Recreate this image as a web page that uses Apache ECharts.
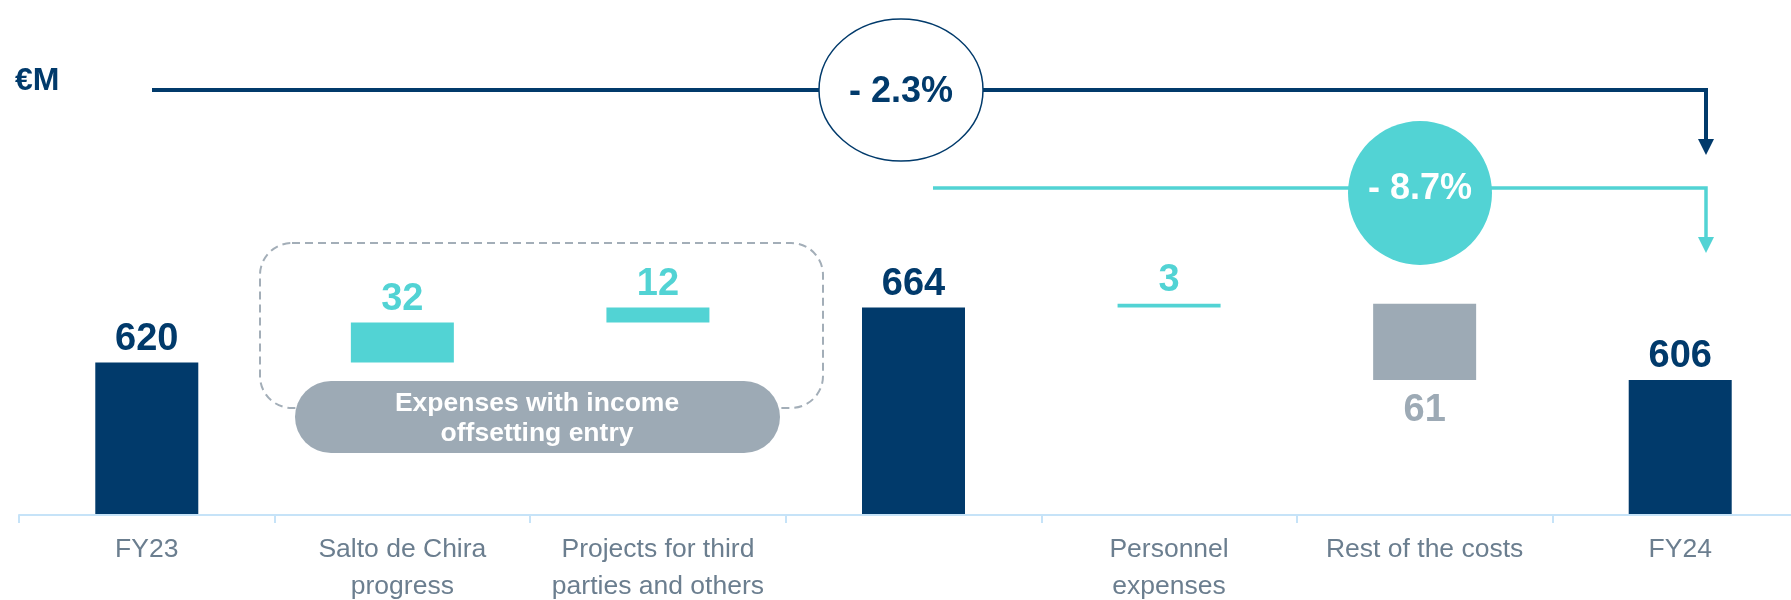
<!DOCTYPE html>
<html>
<head>
<meta charset="utf-8">
<script src="https://cdn.jsdelivr.net/npm/echarts@6/dist/echarts.min.js"></script>
<style>
  html, body { margin: 0; padding: 0; background: #fff; }
  #chart { width: 1791px; height: 600px; }
</style>
</head>
<body>
<div id="chart"></div>
<script>
const categories = ['FY23', 'Salto de Chira\nprogress', 'Projects for third\nparties and others', '', 'Personnel\nexpenses', 'Rest of the costs', 'FY24'];
const totals = [620, '-', '-', 664, '-', '-', 606];
const increases = ['-', 32, 12, '-', 3, '-', '-'];
const decreases = ['-', '-', '-', '-', '-', 61, '-'];

const NAVY = '#013A6B';
const TEAL = '#52D3D4';
const GREY = '#9DAAB5';
const FONT = '"Liberation Sans", Arial, sans-serif';

// invisible base so the floating bars sit at the running level
const base = [];
let level = 0;
for (let i = 0; i < categories.length; i++) {
  if (totals[i] !== '-') { base.push(0); level = totals[i]; }
  else if (increases[i] !== '-') { base.push(level); level += increases[i]; }
  else if (decreases[i] !== '-') { level -= decreases[i]; base.push(level); }
  else base.push(0);
}

const chart = echarts.init(document.getElementById('chart'));

function valueLabel(color, pos, dist) {
  return {
    show: true, position: pos || 'top', distance: dist,
    color: color, fontFamily: FONT, fontWeight: 'bold', fontSize: 38
  };
}

const option = {
  animation: false,
  // axis runs past the right edge, like the slide it comes from
  grid: { left: 19, right: -17, top: 140, bottom: 85, outerBoundsMode: 'none' },
  xAxis: {
    type: 'category',
    data: categories,
    z: 5,
    axisLine: { lineStyle: { color: '#C6E3F8', width: 2 } },
    axisTick: { show: true, length: 8, lineStyle: { color: '#C6E3F8', width: 2 } },
    axisLabel: {
      color: '#6B7E8F', fontFamily: FONT, fontSize: 26.5, lineHeight: 37,
      margin: 16, interval: 0
    }
  },
  yAxis: {
    type: 'value', min: 498, max: 798, show: false, splitLine: { show: false }
  },
  series: [
    {
      type: 'bar', stack: 'w', data: base, barWidth: 103, clip: true,
      itemStyle: { color: 'transparent' }, silent: true
    },
    {
      type: 'bar', stack: 'w', data: totals, barWidth: 103, clip: true,
      itemStyle: { color: NAVY }, label: valueLabel(NAVY, 'top', 4)
    },
    {
      type: 'bar', stack: 'w', data: increases, barWidth: 103, clip: true,
      itemStyle: { color: TEAL }, label: valueLabel(TEAL, 'top', 4)
    },
    {
      type: 'bar', stack: 'w', data: decreases, barWidth: 103, clip: true,
      itemStyle: { color: GREY }, label: valueLabel(GREY, 'bottom', 12)
    }
  ],
  graphic: [
    {
      type: 'text', left: 15, top: 65, z: 10,
      style: { text: '€M', fill: NAVY, font: 'bold 32px ' + FONT }
    },
    // overall change line
    {
      type: 'polyline', z: 10,
      shape: { points: [[152, 90], [1706, 90], [1706, 142]] },
      style: { stroke: NAVY, lineWidth: 4, fill: null }
    },
    {
      type: 'polygon', z: 10,
      shape: { points: [[1698, 139], [1714, 139], [1706, 155]] },
      style: { fill: NAVY }
    },
    {
      type: 'ellipse', z: 11,
      shape: { cx: 901, cy: 90, rx: 82, ry: 71 },
      style: { fill: '#fff', stroke: NAVY, lineWidth: 1.5 }
    },
    {
      type: 'text', z: 12, x: 901, y: 92,
      style: {
        text: '- 2.3%', fill: NAVY, font: 'bold 36px ' + FONT,
        align: 'center', verticalAlign: 'middle',
        textAlign: 'center', textVerticalAlign: 'middle'
      }
    },
    // like-for-like change line
    {
      type: 'polyline', z: 10,
      shape: { points: [[933, 188], [1706, 188], [1706, 240]] },
      style: { stroke: TEAL, lineWidth: 3.5, fill: null }
    },
    {
      type: 'polygon', z: 10,
      shape: { points: [[1698, 237], [1714, 237], [1706, 253]] },
      style: { fill: TEAL }
    },
    {
      type: 'circle', z: 11,
      shape: { cx: 1420, cy: 193, r: 72 },
      style: { fill: TEAL }
    },
    {
      type: 'text', z: 12, x: 1420, y: 189,
      style: {
        text: '- 8.7%', fill: '#fff', font: 'bold 36px ' + FONT,
        align: 'center', verticalAlign: 'middle',
        textAlign: 'center', textVerticalAlign: 'middle'
      }
    },
    // group box for the offset expenses
    {
      type: 'rect', z: 8,
      shape: { x: 260, y: 243, width: 563, height: 165, r: 32 },
      style: { fill: 'none', stroke: '#A3AEB8', lineWidth: 2, lineDash: [8, 5] }
    },
    {
      type: 'rect', z: 9,
      shape: { x: 295, y: 381, width: 485, height: 72, r: 36 },
      style: { fill: GREY }
    },
    {
      type: 'text', z: 10, x: 537, y: 419,
      style: {
        text: 'Expenses with income\noffsetting entry', fill: '#fff',
        font: 'bold 26.5px ' + FONT, lineHeight: 30,
        align: 'center', verticalAlign: 'middle',
        textAlign: 'center', textVerticalAlign: 'middle'
      }
    }
  ]
};

chart.setOption(option);
</script>
</body>
</html>
